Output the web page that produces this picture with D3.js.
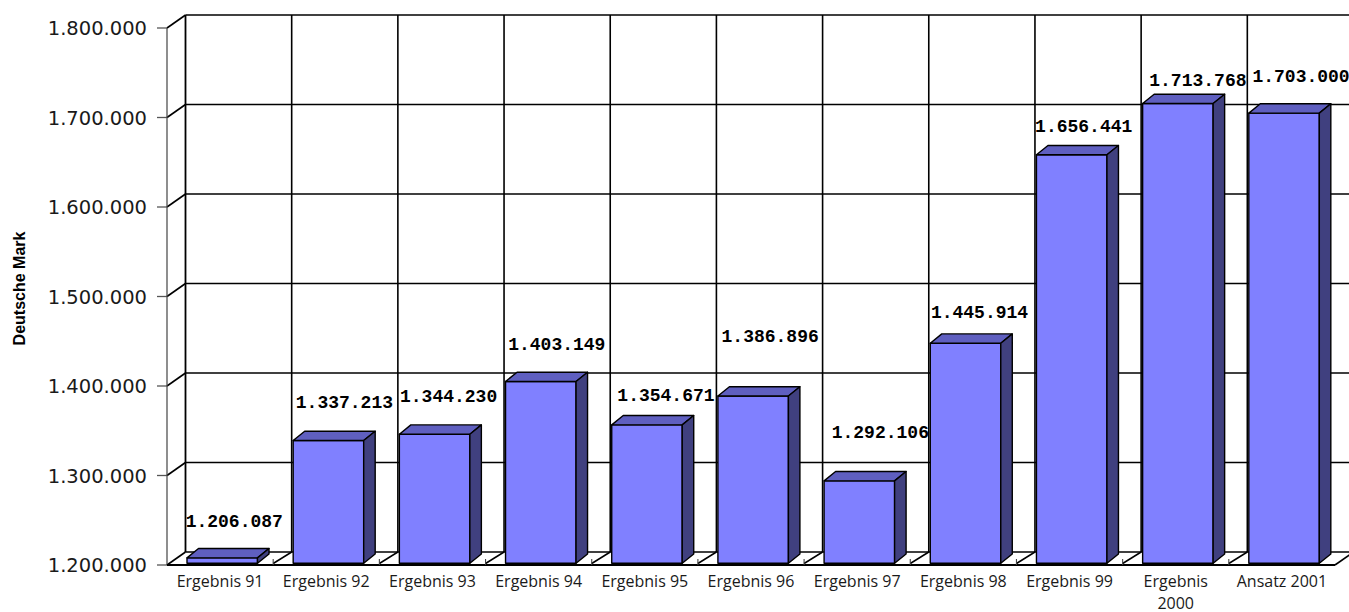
<!DOCTYPE html>
<html>
<head>
<meta charset="utf-8">
<script src="https://cdn.jsdelivr.net/npm/d3@7"></script>
<style>
  body { margin: 0; background: #fff; }
  svg { display: block; }
</style>
</head>
<body>
<svg id="chart" width="1349" height="612"></svg>
<script>
// Budget per year (Deutsche Mark)
const categories = ["Ergebnis 91", "Ergebnis 92", "Ergebnis 93", "Ergebnis 94", "Ergebnis 95",
  "Ergebnis 96", "Ergebnis 97", "Ergebnis 98", "Ergebnis 99", "Ergebnis 2000", "Ansatz 2001"];
const values = [1206087, 1337213, 1344230, 1403149, 1354671, 1386896, 1292106, 1445914, 1656441, 1713768, 1703000];
const tickValues = [1200000, 1300000, 1400000, 1500000, 1600000, 1700000, 1800000];
const axisTitle = "Deutsche Mark";

// hand-placed value labels: shift from the top centre of each bar's front face
const labelDx = [12, 16, 14, 16, 19, 17, 21, 14, 12, 20, 17];
const labelDy = [-31, -32, -32, -31, -24, -54, -43, -25, -23, -17, -31];

const svg = d3.select("#chart");

const de = d3.formatLocale({ decimal: ",", thousands: ".", grouping: [3], currency: ["", " DM"] });
const fmt = de.format(",d");

// front plane of the 3-D box
const x = d3.scaleBand().domain(categories).range([167, 1335]).paddingInner(0).paddingOuter(0);
const y = d3.scaleLinear().domain([1200000, 1800000]).range([565, 28]);
const DX = 18.5, DY = -13;          // box depth
const BAR_OFF_Y = -1.7;             // bar front plane sits just inside the box
const BDX = 11.5, BDY = -9.3;        // bar depth
const BAR_INSET = 20, BAR_W = 70.5;

const x0 = x.range()[0], x1 = x.range()[1];
const yBase = y.domain()[0];

const grid = svg.append("g").attr("class", "walls");
const line = (x1_, y1_, x2_, y2_, w, c) => grid.append("line")
  .attr("x1", x1_).attr("y1", y1_).attr("x2", x2_).attr("y2", y2_)
  .attr("stroke", c || "#000").attr("stroke-width", w || 1.6);

// back wall horizontal grid and side wall diagonals
tickValues.forEach(v => {
  line(x0 + DX, y(v) + DY, x1 + DX, y(v) + DY);
  line(x0, y(v), x0 + DX, y(v) + DY);
  // tick on the value axis
  line(x0 - 10, y(v), x0, y(v), 1.3, "#555");
});
// back wall verticals
categories.forEach((c, i) => {
  const bx = x(c) + DX;
  line(bx, y(1800000) + DY, bx, y(yBase) + DY, i === 0 ? 1.8 : 1.6);
});
// front edge of the side wall
line(x0, y(1800000), x0, y(yBase), 1.2, "#444");

// floor
line(x0, y(yBase), x1, y(yBase), 2);
line(x1, y(yBase), x1 + DX, y(yBase) + DY, 1.6);
categories.forEach((c, i) => {
  if (i === 0) return;
  const fx = x(c);
  line(fx, y(yBase) - 1.5, fx + DX, y(yBase) + DY, 1.5);
  line(fx, y(yBase) - 6, fx, y(yBase), 1.1, "#444");
});

// bars
const bars = svg.append("g").attr("class", "bars");
categories.forEach((c, i) => {
  const v = values[i];
  const fx = x(c) + BAR_INSET;
  const top = y(v) + BAR_OFF_Y;
  const bot = y(yBase) + BAR_OFF_Y;
  const g = bars.append("g");
  const poly = (pts, fill) => g.append("polygon")
    .attr("points", pts.map(d => d.join(",")).join(" "))
    .attr("fill", fill).attr("stroke", "#000")
    .attr("stroke-width", 1.4).attr("stroke-linejoin", "round");
  // front
  poly([[fx, top], [fx + BAR_W, top], [fx + BAR_W, bot], [fx, bot]], "#8080ff");
  // top
  poly([[fx, top], [fx + BDX, top + BDY], [fx + BAR_W + BDX, top + BDY], [fx + BAR_W, top]], "#5f5fc0");
  // side
  poly([[fx + BAR_W, top], [fx + BAR_W + BDX, top + BDY], [fx + BAR_W + BDX, bot + BDY], [fx + BAR_W, bot]], "#40407f");
});

// value labels
const labels = svg.append("g").attr("class", "values")
  .attr("font-family", "'Liberation Mono', 'Courier New', monospace")
  .attr("font-weight", "bold").attr("font-size", 18).attr("fill", "#000");
categories.forEach((c, i) => {
  const cx = x(c) + BAR_INSET + BAR_W / 2;
  const top = y(values[i]) + BAR_OFF_Y;
  labels.append("text")
    .attr("x", cx + labelDx[i]).attr("y", top + labelDy[i])
    .attr("text-anchor", "middle")
    .text(fmt(values[i]));
});

// value axis labels
const yl = svg.append("g").attr("font-family", "'DejaVu Sans', sans-serif")
  .attr("font-size", 19.5).attr("fill", "#1a1a1a");
tickValues.forEach(v => {
  yl.append("text").attr("x", 147).attr("y", y(v) + 7)
    .attr("text-anchor", "end").text(fmt(v));
});

// category labels, wrapped when too wide
const xl = svg.append("g").attr("font-family", "'Open Sans', sans-serif")
  .attr("font-size", 16).attr("fill", "#1a1a1a");
categories.forEach(c => {
  const cx = x(c) + x.bandwidth() / 2;
  const t = xl.append("text").attr("x", cx).attr("y", 587)
    .attr("text-anchor", "middle").text(c);
  if (t.node().getComputedTextLength() > 96) {
    const words = c.split(" ");
    t.text(null);
    words.forEach((w, k) => t.append("tspan").attr("x", cx)
      .attr("dy", k === 0 ? 0 : 21.5).text(w));
  }
});

// axis title
svg.append("text")
  .attr("transform", "translate(25,288.5) rotate(-90)")
  .attr("text-anchor", "middle")
  .attr("font-family", "'Liberation Sans', Arial, sans-serif")
  .attr("font-weight", "bold").attr("font-size", 16).attr("fill", "#000")
  .text(axisTitle);
</script>
</body>
</html>
